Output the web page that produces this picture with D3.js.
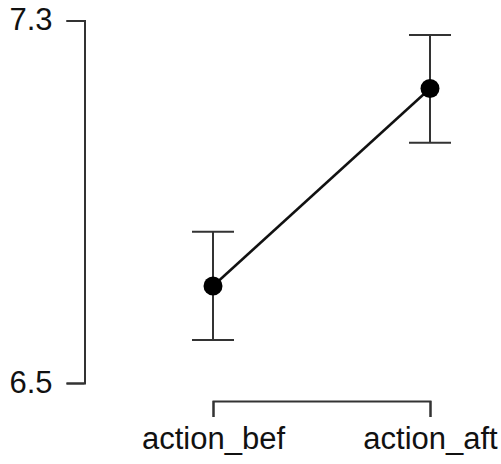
<!DOCTYPE html>
<html>
<head>
<meta charset="utf-8">
<script src="https://cdn.jsdelivr.net/npm/d3@7"></script>
<style>
  html, body { margin: 0; padding: 0; background: #fff; }
  svg { display: block; }
</style>
</head>
<body>
<svg id="chart" width="501" height="464"></svg>
<script>
// Mean scores with standard-error bounds
const categories = ["action_bef", "action_aft"];
const means = [6.714, 7.150];
const lower = [6.595, 7.030];
const upper = [6.834, 7.268];
const yTicks = [6.5, 7.3];

const svg = d3.select("#chart");
const font = "'Liberation Sans', Arial, sans-serif";

const x = d3.scalePoint().domain(categories).range([213, 430]).padding(0);
const y = d3.scaleLinear().domain([6.5, 7.3]).range([383, 20.5]);

const data = categories.map((c, i) => ({ c, m: means[i], lo: lower[i], hi: upper[i] }));

// Y axis (bracket style spanning tick range)
const yAxis = svg.append("g")
  .attr("transform", "translate(84.5,0)")
  .call(d3.axisLeft(y).tickValues(yTicks).tickFormat(d3.format(".1f"))
    .tickSize(18).tickSizeOuter(18).tickPadding(14));
yAxis.selectAll("path, line").attr("stroke", "#333").attr("stroke-width", 2);
yAxis.selectAll("text").attr("font-family", font).attr("font-size", 31)
  .attr("fill", "#111").attr("dy", "0.3em");

// X axis
const xAxis = svg.append("g")
  .attr("transform", "translate(0,401)")
  .call(d3.axisBottom(x).tickSize(16).tickSizeOuter(16));
xAxis.selectAll("path, line").attr("stroke", "#333").attr("stroke-width", 2);
xAxis.selectAll("text").attr("font-family", font).attr("font-size", 31)
  .attr("fill", "#111").attr("y", 48).attr("dy", 0);

// Error bars
const eb = svg.append("g").attr("stroke", "#333").attr("stroke-width", 2);
eb.selectAll(".stem").data(data).join("line")
  .attr("x1", d => x(d.c)).attr("x2", d => x(d.c))
  .attr("y1", d => y(d.lo)).attr("y2", d => y(d.hi));
eb.selectAll(".capTop").data(data).join("line")
  .attr("x1", d => x(d.c) - 21).attr("x2", d => x(d.c) + 21)
  .attr("y1", d => y(d.hi)).attr("y2", d => y(d.hi));
eb.selectAll(".capBot").data(data).join("line")
  .attr("x1", d => x(d.c) - 21).attr("x2", d => x(d.c) + 21)
  .attr("y1", d => y(d.lo)).attr("y2", d => y(d.lo));

// Connecting line
svg.append("path")
  .datum(data)
  .attr("fill", "none")
  .attr("stroke", "#111")
  .attr("stroke-width", 2.5)
  .attr("d", d3.line().x(d => x(d.c)).y(d => y(d.m)));

// Points
svg.selectAll(".pt").data(data).join("circle")
  .attr("cx", d => x(d.c)).attr("cy", d => y(d.m))
  .attr("r", 9.5).attr("fill", "#000");
</script>
</body>
</html>
